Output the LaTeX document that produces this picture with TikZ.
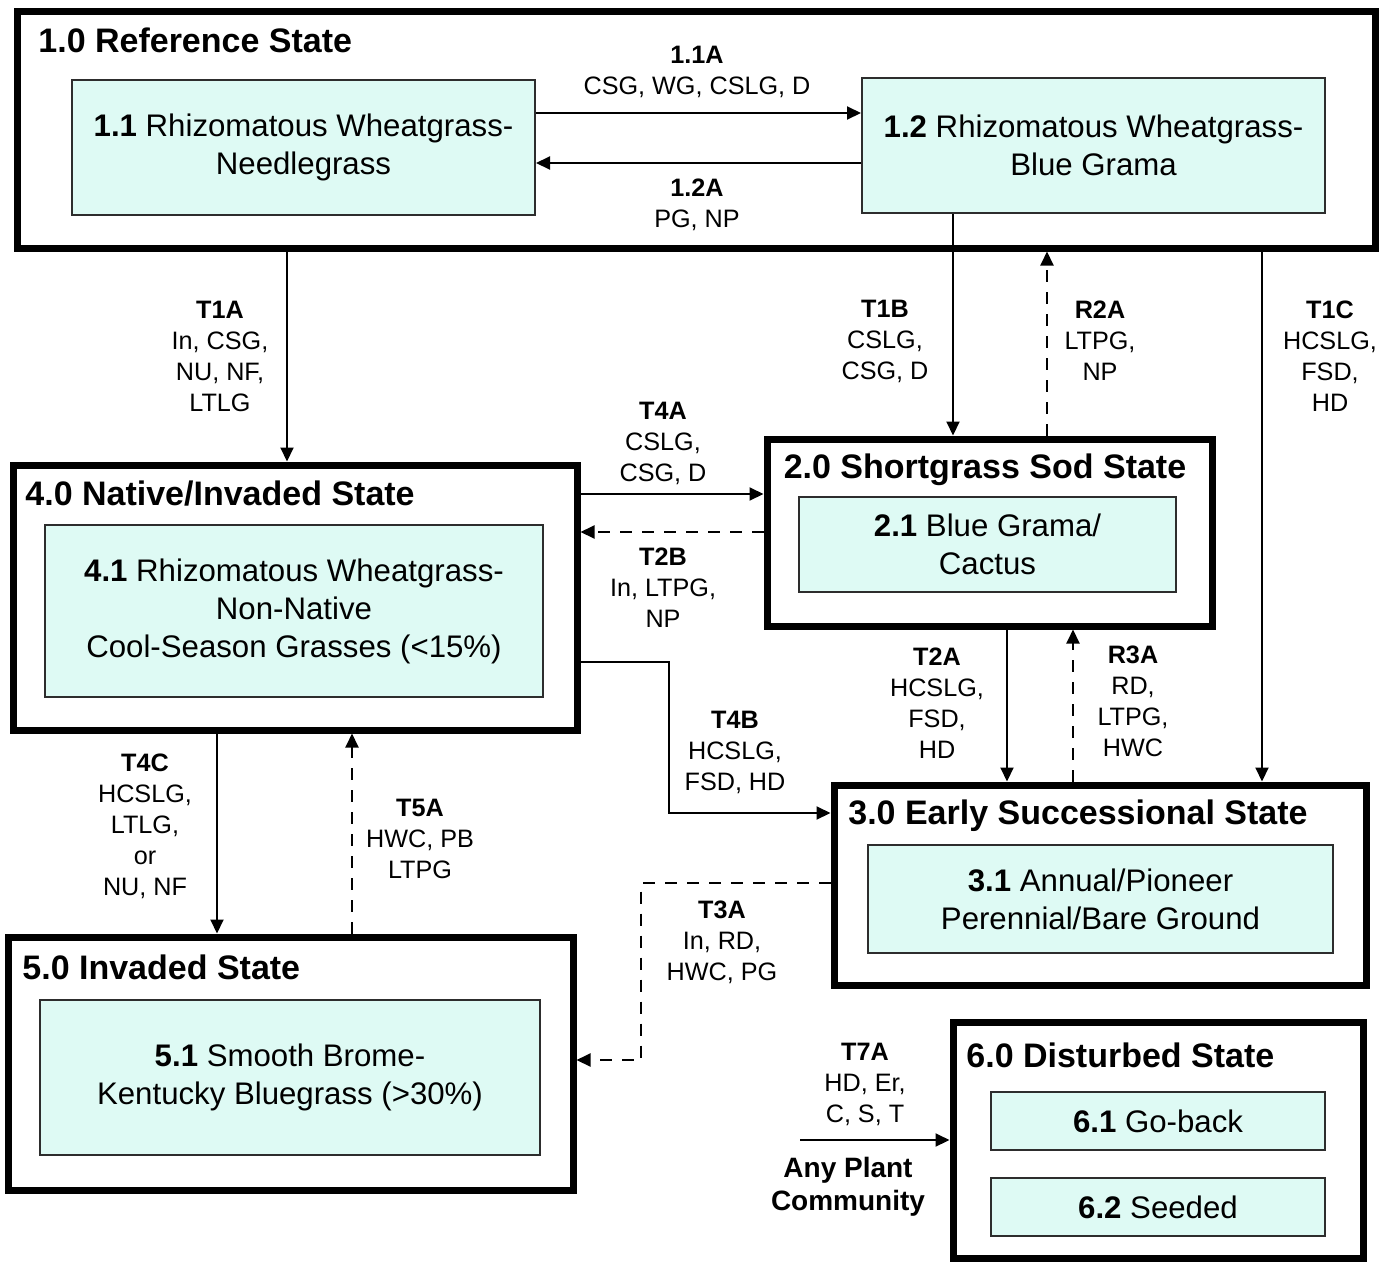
\documentclass[tikz,border=0pt]{standalone}
\usepackage{fontspec}
\setmainfont{Liberation Sans}
\usetikzlibrary{arrows.meta}

\definecolor{phasecyan}{RGB}{222,250,244}
\definecolor{phaseline}{RGB}{45,45,45}

\tikzset{
    statebox/.style = {draw = black, line width = 3.5pt, inner sep = 0pt},
    phasebox/.style = {draw = phaseline, line width = 1pt, fill = phasecyan, align = center,
                       inner sep = 0pt, font = \fontsize{15.6}{19}\selectfont},
    statetitle/.style = {font = \fontsize{17}{20}\selectfont\bfseries, inner sep = 0pt},
    lbl/.style = {align = center, inner sep = 0pt, font = \fontsize{12.6}{15.5}\selectfont},
    trans/.style = {line width = 1pt, -{Triangle[length = 7pt, width = 6.5pt]}},
    restore/.style = {trans, dash pattern = on 6pt off 5pt},
}

\begin{document}
\begin{tikzpicture}[x = 0.5pt, y = -0.5pt]
    \useasboundingbox (0, 0) rectangle (1393, 1264);

    % states
    \node [statebox, minimum width = 679pt, minimum height = 118.5pt] (ref) at (696, 129.5) {};
    \node [statebox, minimum width = 282pt, minimum height = 132.5pt] (nat) at (295, 597.5) {};
    \node [statebox, minimum width = 222.5pt, minimum height = 93.5pt] (sod) at (989.5, 532.5) {};
    \node [statebox, minimum width = 266pt, minimum height = 100pt] (early) at (1100, 885) {};
    \node [statebox, minimum width = 282.5pt, minimum height = 126.5pt] (inv) at (290.5, 1063.5) {};
    \node [statebox, minimum width = 205pt, minimum height = 118pt] (dist) at (1158, 1140) {};

    \node [statetitle, anchor = west] (ref title) at (38, 40) {1.0 Reference State};
    \node [statetitle, anchor = west] (nat title) at (25, 494) {4.0 Native/Invaded State};
    \node [statetitle] (sod title) at (985, 470) {2.0 Shortgrass Sod State};
    \node [statetitle] (early title) at (1078, 816) {3.0 Early Successional State};
    \node [statetitle, anchor = west] (inv title) at (22, 967) {5.0 Invaded State};
    \node [statetitle, anchor = west] (dist title) at (966, 1055) {6.0 Disturbed State};

    %%%%%%%%%%%%%%%%%%%%
    % community phases
    \node [phasebox, minimum width = 231.5pt, minimum height = 67.5pt] (p11) at (303.5, 147.5)
        {\textbf{1.1} Rhizomatous Wheatgrass-\\Needlegrass};
    \node [phasebox, minimum width = 231.5pt, minimum height = 67.5pt] (p12) at (1093.5, 145.5)
        {\textbf{1.2} Rhizomatous Wheatgrass-\\Blue Grama};
    \node [phasebox, minimum width = 249pt, minimum height = 86pt] (p41) at (294, 611)
        {\textbf{4.1} Rhizomatous Wheatgrass-\\Non-Native\\Cool-Season Grasses (<15\%)};
    \node [phasebox, minimum width = 188.5pt, minimum height = 47.5pt] (p21) at (987.5, 544.5)
        {\textbf{2.1} Blue Grama/\\Cactus};
    \node [phasebox, minimum width = 232.5pt, minimum height = 54pt] (p31) at (1100.5, 899)
        {\textbf{3.1} Annual/Pioneer\\Perennial/Bare Ground};
    \node [phasebox, minimum width = 250pt, minimum height = 77.5pt] (p51) at (290, 1077.5)
        {\textbf{5.1} Smooth Brome-\\Kentucky Bluegrass (>30\%)};
    \node [phasebox, minimum width = 167pt, minimum height = 29pt] (p61) at (1158, 1121)
        {\textbf{6.1} Go-back};
    \node [phasebox, minimum width = 167pt, minimum height = 29pt] (p62) at (1158, 1207)
        {\textbf{6.2} Seeded};

    %%%%%%%%%%%%%%%%%%%%
    % transitions
    \draw [trans] (p11.east |- 0, 113) -- (p12.west |- 0, 113);
    \draw [trans] (p12.west |- 0, 163) -- (p11.east |- 0, 163);
    \node [lbl] (l11a) at (697, 72) {\textbf{1.1A}\\CSG, WG, CSLG, D};
    \node [lbl] (l12a) at (697, 205) {\textbf{1.2A}\\PG, NP};

    \draw [trans] (287, 0 |- ref.south) -- (287, 0 |- nat.north);
    \node [lbl] (t1a) at (220, 356) {\textbf{T1A}\\In, CSG,\\NU, NF,\\LTLG};

    \draw [trans] (953, 0 |- p12.south) -- (953, 0 |- sod.north);
    \node [lbl] (t1b) at (885, 341) {\textbf{T1B}\\CSLG,\\CSG, D};

    \draw [restore] (1047, 0 |- sod.north) -- (1047, 0 |- ref.south);
    \node [lbl] (r2a) at (1100, 341) {\textbf{R2A}\\LTPG,\\NP};

    \draw [trans] (1262, 0 |- ref.south) -- (1262, 0 |- early.north);
    \node [lbl] (t1c) at (1330, 356) {\textbf{T1C}\\HCSLG,\\FSD,\\HD};

    \draw [trans] (nat.east |- 0, 494) -- (sod.west |- 0, 494);
    \node [lbl] (t4a) at (663, 443) {\textbf{T4A}\\CSLG,\\CSG, D};

    \draw [restore] (sod.west |- 0, 532) -- (nat.east |- 0, 532);
    \node [lbl] (t2b) at (663, 588) {\textbf{T2B}\\In, LTPG,\\NP};

    \draw [trans] (nat.east |- 0, 662) -| (669, 813) -- (early.west |- 0, 813);
    \node [lbl] (t4b) at (735, 752) {\textbf{T4B}\\HCSLG,\\FSD, HD};

    \draw [trans] (1007, 0 |- sod.south) -- (1007, 0 |- early.north);
    \node [lbl] (t2a) at (937, 703) {\textbf{T2A}\\HCSLG,\\FSD,\\HD};

    \draw [restore] (1073, 0 |- early.north) -- (1073, 0 |- sod.south);
    \node [lbl] (r3a) at (1133, 701) {\textbf{R3A}\\RD,\\LTPG,\\HWC};

    \draw [restore] (early.west |- 0, 883) -| (641, 1060) -- (inv.east |- 0, 1060);
    \node [lbl] (t3a) at (722, 942) {\textbf{T3A}\\In, RD,\\HWC, PG};

    \draw [trans] (217, 0 |- nat.south) -- (217, 0 |- inv.north);
    \node [lbl] (t4c) at (145, 826) {\textbf{T4C}\\HCSLG,\\LTLG,\\or\\NU, NF};

    \draw [restore] (352, 0 |- inv.north) -- (352, 0 |- nat.south);
    \node [lbl] (t5a) at (420, 839) {\textbf{T5A}\\HWC, PB\\LTPG};

    %%%%%%%%%%%%%%%%%%%%
    \coordinate (any) at (800, 1140);
    \draw [trans] (any) -- (dist.west |- any);
    \node [lbl] (t7a) at (865, 1084) {\textbf{T7A}\\HD, Er,\\C, S, T};
    \node [lbl, font = \fontsize{14}{16.5}\selectfont\bfseries] (anyplant) at (848, 1187) {Any Plant\\Community};
\end{tikzpicture}
\end{document}
